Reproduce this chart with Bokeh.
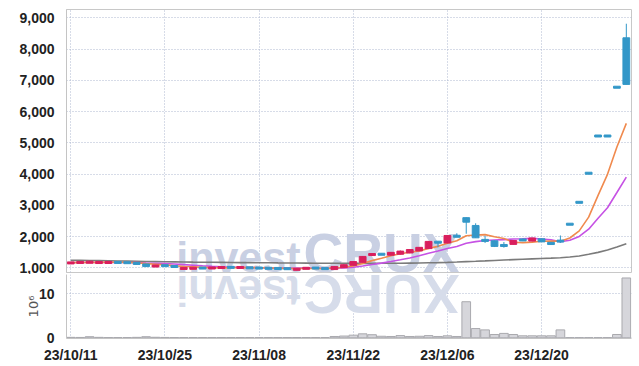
import math
import numpy as np
from bokeh.plotting import figure
from bokeh.layouts import column
from bokeh.models import Range1d, FixedTicker
from bokeh.core.properties import value
from bokeh.embed import file_html
from bokeh.resources import INLINE

# ---------------- data ----------------
tick_dates = ["23/10/11", "23/10/25", "23/11/08", "23/11/22", "23/12/06", "23/12/20"]
tick_index = [0, 10, 20, 30, 40, 50]

opens = [1150, 1170, 1180, 1165, 1172, 1180, 1175, 1160, 1130, 1035,
         1085, 1060, 970, 980, 1000, 995, 1005, 1025, 1012, 1010,
         1005, 995, 990, 985, 930, 985, 1000, 985, 950, 1010,
         1085, 1180, 1410, 1450, 1410, 1440, 1480, 1545, 1620, 1830,
         1800, 2040, 2610, 2360, 1890, 1870, 1725, 1755, 1900, 1860,
         1935, 1820, 1870, 2400, 3100, 4030, 5220, 5220, 6780, 8360]
highs = [1185, 1195, 1230, 1195, 1185, 1185, 1180, 1165, 1135, 1095,
         1090, 1065, 1010, 1010, 1010, 1010, 1030, 1030, 1025, 1020,
         1010, 1000, 995, 995, 990, 1000, 1005, 990, 1060, 1115,
         1215, 1380, 1460, 1455, 1510, 1560, 1600, 1670, 1860, 1840,
         2050, 2110, 2620, 2430, 2030, 1880, 1830, 1885, 1940, 1965,
         1945, 1830, 2040, 2400, 3100, 4030, 5220, 5220, 6780, 8810]
lows = [1145, 1165, 1170, 1160, 1165, 1170, 1160, 1120, 1030, 1030,
        1055, 1025, 965, 970, 990, 990, 1000, 1010, 1005, 995,
        985, 980, 975, 960, 925, 980, 990, 965, 940, 1000,
        1080, 1175, 1385, 1420, 1400, 1430, 1470, 1540, 1610, 1665,
        1790, 1985, 2095, 1960, 1800, 1670, 1650, 1750, 1860, 1855,
        1830, 1740, 1800, 2400, 3100, 4030, 5220, 5220, 6780, 6870]
closes = [1175, 1185, 1190, 1185, 1180, 1175, 1165, 1130, 1045, 1090,
          1065, 1035, 1000, 1000, 995, 1005, 1025, 1015, 1020, 1000,
          990, 985, 980, 970, 985, 995, 995, 975, 1050, 1105,
          1205, 1370, 1450, 1430, 1500, 1540, 1590, 1660, 1850, 1820,
          2040, 1990, 2465, 1965, 1875, 1690, 1715, 1880, 1895, 1960,
          1835, 1750, 1850, 2400, 3100, 4030, 5220, 5220, 6780, 6870]
# closes before the first shown day (for the moving averages)
prev_closes = [1180, 1185, 1175, 1180, 1170, 1175, 1180, 1170, 1165]
# 60-day moving average
ma60 = [1250, 1245, 1240, 1235, 1230, 1225, 1220, 1215, 1210, 1205,
        1200, 1196, 1192, 1188, 1185, 1182, 1179, 1176, 1173, 1171,
        1168, 1166, 1163, 1161, 1158, 1156, 1154, 1152, 1150, 1149,
        1148, 1148, 1149, 1150, 1152, 1154, 1157, 1161, 1166, 1172,
        1180, 1190, 1204, 1215, 1228, 1242, 1256, 1268, 1280, 1292,
        1304, 1316, 1330, 1350, 1385, 1440, 1500, 1575, 1670, 1775]
# volume, millions of shares
volume = [0.10, 0.08, 0.25, 0.10, 0.05, 0.05, 0.06, 0.10, 0.25, 0.12,
          0.08, 0.06, 0.05, 0.05, 0.04, 0.04, 0.05, 0.04, 0.04, 0.04,
          0.05, 0.04, 0.04, 0.05, 0.06, 0.04, 0.04, 0.05, 0.30, 0.40,
          0.60, 0.90, 0.70, 0.35, 0.30, 0.50, 0.30, 0.35, 0.50, 0.30,
          0.45, 0.30, 8.20, 2.10, 1.80, 0.75, 1.00, 0.75, 0.45, 0.45,
          0.45, 0.45, 1.80, 0.02, 0.02, 0.02, 0.02, 0.03, 0.75, 13.60]
price_ticks = [1000, 2000, 3000, 4000, 5000, 6000, 7000, 8000, 9000]
vol_ticks = [0, 10]

# ---------------- derived ----------------
n = len(closes)
idx = np.arange(n)
allc = np.array(prev_closes + closes, dtype=float)
off = len(prev_closes)
ma5 = [allc[off + i - 4: off + i + 1].mean() for i in range(n)]
ma10 = [allc[off + i - 9: off + i + 1].mean() for i in range(n)]

P0, P1 = 856, 9265          # price range
PRICE_FRAME_H = 263
units_per_px = (P1 - P0) / PRICE_FRAME_H

o = np.array(opens, float); c = np.array(closes, float)
top = np.maximum(o, c); bot = np.minimum(o, c)
min_h = 2.0 * units_per_px
small = (top - bot) < min_h
mid = (top + bot) / 2
top = np.where(small, mid + min_h / 2, top)
bot = np.where(small, mid - min_h / 2, bot)
UP, DOWN = "#d91f5d", "#3397c8"
colors = [UP if cc > oo else DOWN for oo, cc in zip(opens, closes)]

FONT = "Liberation Sans"
GRID = "#aeb8d0"
WM = "#c9d0e3"
WM2 = "#d6dcea"
xr = Range1d(-0.45, 59.55)
xt = FixedTicker(ticks=tick_index)


def style_y(p, ticks, labels):
    yt = FixedTicker(ticks=ticks)
    p.yaxis.ticker = yt
    p.yaxis.major_label_overrides = labels
    p.yaxis.major_tick_line_color = None
    p.yaxis.minor_tick_line_color = None
    p.yaxis.axis_line_color = "#c4c4c4"
    p.yaxis.major_label_standoff = 6
    p.yaxis.major_label_text_font = FONT
    p.yaxis.major_label_text_font_style = "bold"
    p.yaxis.major_label_text_font_size = "14px"
    p.yaxis.major_label_text_color = "#222222"
    p.ygrid.ticker = yt
    p.xgrid.ticker = xt
    for g in (p.xgrid, p.ygrid):
        g.grid_line_color = GRID
        g.grid_line_dash = "1 2"
        g.grid_line_width = 1


def watermark(fig, xs, ys, words, sizes, color, angle):
    for x, y, w, s in zip(xs, ys, words, sizes):
        fig.text(x=[x], y=[y], text=[w], text_font=value(FONT), text_font_style="bold",
                 text_font_size=s, text_color=color, angle=angle,
                 text_align="center", text_baseline="middle")


# ---------------- price panel ----------------
p = figure(width=632, height=274, x_range=xr, y_range=Range1d(P0, P1),
           output_backend="svg", toolbar_location=None, x_axis_location=None,
           min_border_left=66, min_border_right=1, min_border_top=9, min_border_bottom=2)
p.outline_line_color = "#c8c8c8"
style_y(p, price_ticks, {t: f"{t:,}" for t in price_ticks})

watermark(p, [17.8, 33.0], [1340, 1490], ["invest", "CRUX"], ["43px", "55px"], WM, 0)

p.line(idx, ma60, line_color="#7b7b7b", line_width=1.6)
p.line(idx, ma10, line_color="#c652e4", line_width=1.6)
p.line(idx, ma5, line_color="#f08a4e", line_width=1.6)

p.segment(x0=idx, y0=lows, x1=idx, y1=highs, line_color=colors, line_width=1)
p.vbar(x=idx, top=top, bottom=bot, width=0.72, fill_color=colors, line_color=colors, line_width=1)

# ---------------- volume panel ----------------
v = figure(width=632, height=91, x_range=xr, y_range=Range1d(-0.16, 14.39),
           output_backend="svg", toolbar_location=None,
           min_border_left=66, min_border_right=1, min_border_top=0, min_border_bottom=27)
v.outline_line_color = None
style_y(v, vol_ticks, {t: str(t) for t in vol_ticks})
v.yaxis.axis_label = "10⁶"
v.yaxis.axis_label_standoff = -5
v.yaxis.axis_label_text_font = "DejaVu Sans"
v.yaxis.axis_label_text_font_style = "normal"
v.yaxis.axis_label_text_font_size = "13px"
v.yaxis.axis_label_text_color = "#555555"

v.xaxis.ticker = xt
v.xaxis.major_label_overrides = {i: d for i, d in zip(tick_index, tick_dates)}
v.xaxis.major_tick_line_color = None
v.xaxis.minor_tick_line_color = None
v.xaxis.axis_line_color = "#c4c4c4"
v.xaxis.major_label_standoff = 2
v.xaxis.major_label_text_font = FONT
v.xaxis.major_label_text_font_style = "bold"
v.xaxis.major_label_text_font_size = "14px"
v.xaxis.major_label_text_color = "#222222"

# mirrored watermark (reflection under the price panel)
watermark(v, [17.8, 33.0], [10.75, 9.85], ["tsevni", "XURC"], ["43px", "55px"], WM2, math.pi)

v.vbar(x=idx, top=volume, bottom=0, width=0.92,
       fill_color="#d6d6db", line_color="#a9a9ae", line_width=1)

layout = column(p, v, spacing=0)
open("out.html", "w").write(file_html(layout, INLINE))
